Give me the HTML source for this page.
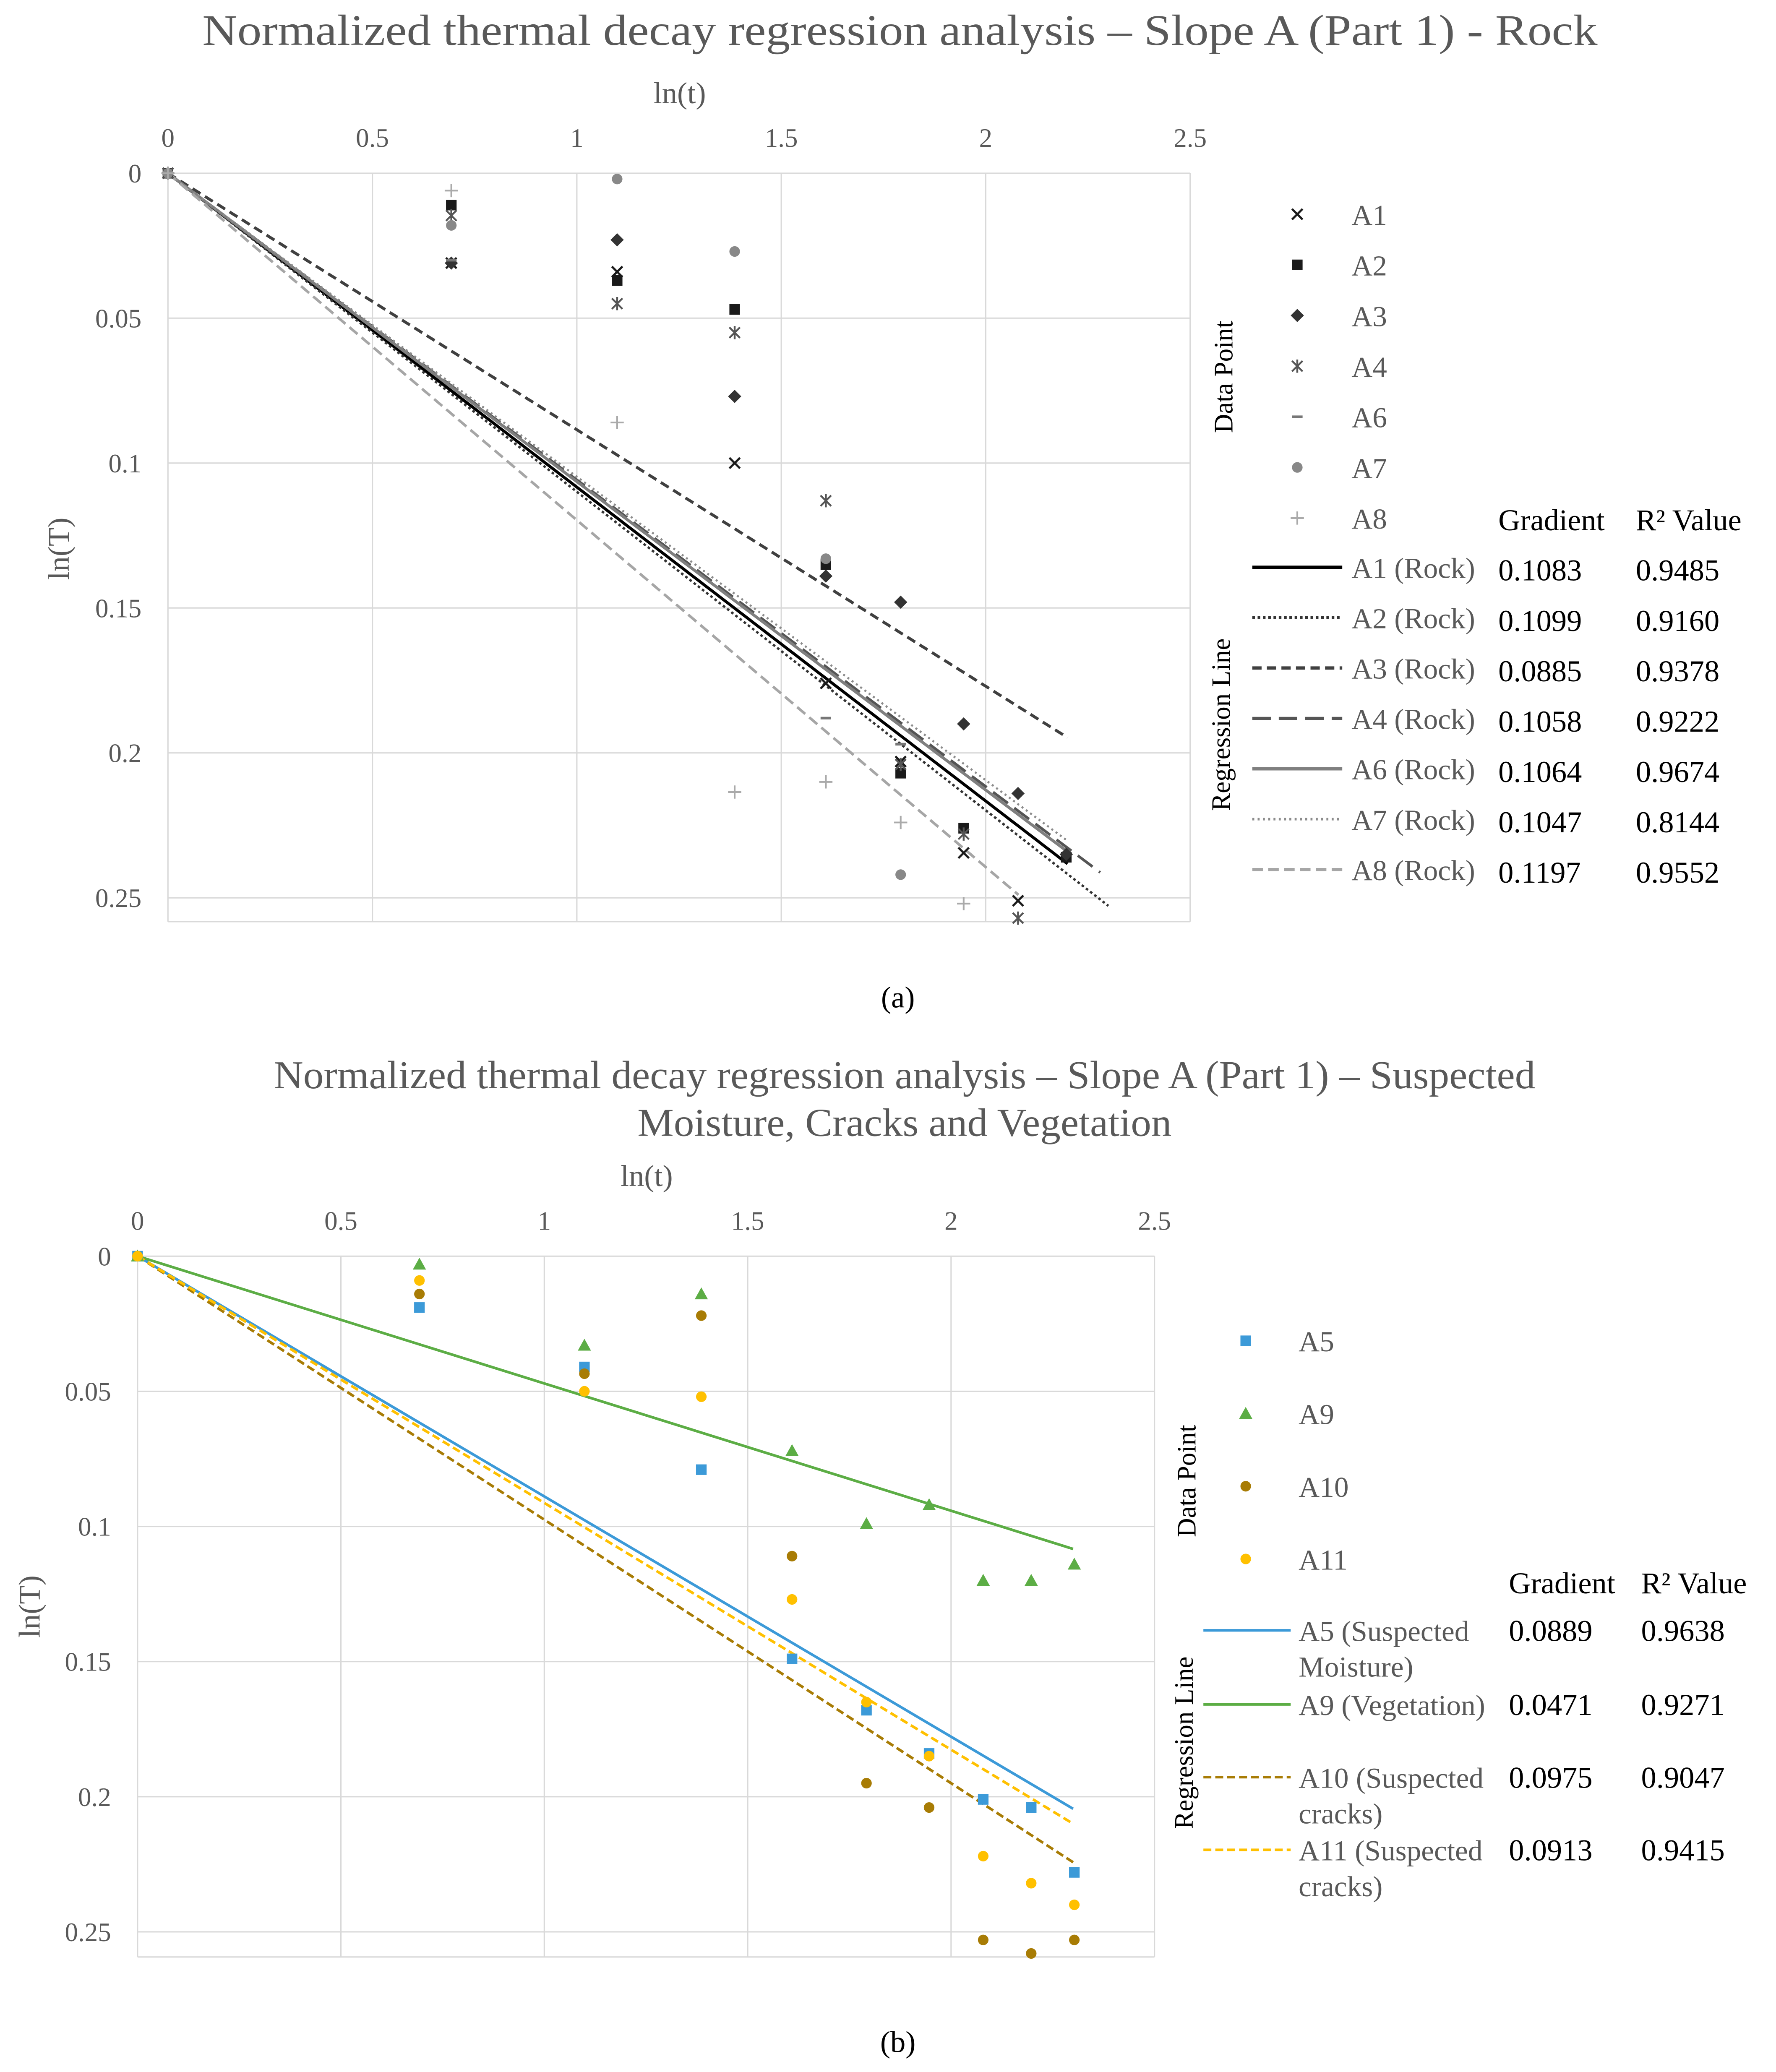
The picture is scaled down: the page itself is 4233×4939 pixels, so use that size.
<!DOCTYPE html>
<html><head><meta charset="utf-8">
<style>html,body{margin:0;padding:0;background:#fff}svg{display:block}</style>
</head><body>
<svg id="fig" xmlns="http://www.w3.org/2000/svg" width="4233" height="4939" viewBox="0 0 1343 1567" font-family="'Liberation Serif', serif"></svg>
<script>
// ---------- Chart A data ----------
const xsA = [0, 0.693, 1.0986, 1.386, 1.609, 1.792, 1.946, 2.079, 2.197];
const a1Vals = [0, 0.031, 0.034, 0.100, 0.176, 0.203, 0.2345, 0.251, null];
const a2Vals = [0, 0.011, 0.037, 0.047, 0.135, 0.207, 0.226, null, 0.236];
const a3Vals = [0, 0.031, 0.023, 0.077, 0.139, 0.148, 0.190, 0.214, 0.235];
const a4Vals = [0, 0.0146, 0.045, 0.055, 0.113, 0.204, 0.228, 0.257, null];
const a6Vals = [0, 0.030, null, null, 0.188, 0.197, null, null, null];
const a7Vals = [0, 0.018, 0.002, 0.027, 0.133, 0.242, null, null, null];
const a8Vals = [0, 0.006, 0.086, 0.2135, 0.210, 0.224, 0.252, null, null];
const namesA = ['A1','A2','A3','A4','A6','A7','A8'];
const gradA = [0.1083, 0.1099, 0.0885, 0.1058, 0.1064, 0.1047, 0.1197];
const r2A = ['0.9485','0.9160','0.9378','0.9222','0.9674','0.8144','0.9552'];
const lineEndA = [2.2, 2.3, 2.2, 2.28, 2.2, 2.2, 2.08];
const xTicks = [0, 0.5, 1, 1.5, 2, 2.5];
const yTicks = [0, 0.05, 0.1, 0.15, 0.2, 0.25];
const yTickLabels = ['0','0.05','0.1','0.15','0.2','0.25'];
// ---------- Chart B data ----------
const xsB = [0, 0.693, 1.0986, 1.386, 1.609, 1.792, 1.946, 2.079, 2.197, 2.303];
const a5Vals = [0, 0.019, 0.041, 0.079, 0.149, 0.168, 0.184, 0.201, 0.204, 0.228];
const a9Vals = [0, 0.003, 0.033, 0.014, 0.072, 0.099, 0.092, 0.120, 0.120, 0.114];
const a10Vals = [0, 0.014, 0.0435, 0.022, 0.111, 0.195, 0.204, 0.253, 0.258, 0.253];
const a11Vals = [0, 0.009, 0.050, 0.052, 0.127, 0.165, 0.185, 0.222, 0.232, 0.240];
const namesB = ['A5','A9','A10','A11'];
const gradB = [0.0889, 0.0471, 0.0975, 0.0913];
const r2B = ['0.9638','0.9271','0.9047','0.9415'];
const lineEndB = [2.3, 2.3, 2.3, 2.3];

const NS='http://www.w3.org/2000/svg';
const svg=document.getElementById('fig');
function mk(tag,attrs,parent){const e=document.createElementNS(NS,tag);for(const k in attrs)e.setAttribute(k,attrs[k]);(parent||svg).appendChild(e);return e;}
function txt(s,attrs,parent){const e=mk('text',attrs,parent);e.textContent=s;return e;}

function axes(g,cfg){
  const sx=v=>cfg.x0+v*cfg.kx, sy=v=>cfg.y0+v*cfg.ky;
  xTicks.forEach((t,i)=>{
    const l=mk('line',{x1:sx(t),x2:sx(t),y1:cfg.y0,y2:cfg.yb,stroke:'#d9d9d9','stroke-width':1},g);
    
    
    const tl=txt(String(t),{x:sx(t),y:cfg.y0-20,'text-anchor':'middle','font-size':20,fill:'#595959'},g);
    
    
  });
  yTicks.forEach((t,i)=>{
    const l=mk('line',{x1:cfg.x0,x2:cfg.x0+2.5*cfg.kx,y1:sy(t),y2:sy(t),stroke:'#d9d9d9','stroke-width':1},g);
    
    
    const tl=txt(yTickLabels[i],{x:cfg.x0-20,y:sy(t)+7,'text-anchor':'end','font-size':20,fill:'#595959'},g);
    
    
  });
  const bl=mk('line',{x1:cfg.x0,x2:cfg.x0+2.5*cfg.kx,y1:cfg.yb,y2:cfg.yb,stroke:'#d9d9d9'},g);
  
  
  return [sx,sy];
}

function marker(g,type,x,y,color){
  let e;
  if(type==='x'){e=mk('path',{d:`M${x-4},${y-4}L${x+4},${y+4}M${x-4},${y+4}L${x+4},${y-4}`,stroke:color,'stroke-width':1.6,fill:'none'},g);}
  else if(type==='sq'){e=mk('rect',{x:x-4,y:y-4,width:8,height:8,fill:color},g);}
  else if(type==='dia'){e=mk('path',{d:`M${x},${y-5}L${x+5},${y}L${x},${y+5}L${x-5},${y}Z`,fill:color},g);}
  else if(type==='ast'){e=mk('path',{d:`M${x-4},${y-4}L${x+4},${y+4}M${x-4},${y+4}L${x+4},${y-4}M${x},${y-5}L${x},${y+5}`,stroke:color,'stroke-width':1.4,fill:'none'},g);}
  else if(type==='dash'){e=mk('line',{x1:x-4,x2:x+4,y1:y,y2:y,stroke:color,'stroke-width':2},g);}
  else if(type==='dot'){e=mk('circle',{cx:x,cy:y,r:4,fill:color},g);}
  else if(type==='plus'){e=mk('path',{d:`M${x-5},${y}L${x+5},${y}M${x},${y-5}L${x},${y+5}`,stroke:color,'stroke-width':1.3,fill:'none'},g);}
  else if(type==='tri'){e=mk('path',{d:`M${x},${y-5}L${x+5},${y+4}L${x-5},${y+4}Z`,fill:color},g);}
  return e;
}

// ================= Chart A =================
const gA=mk('g',{});


let t=txt('Normalized thermal decay regression analysis – Slope A (Part 1) - Rock',{x:153,y:34,'font-size':33,fill:'#595959',textLength:1055,lengthAdjust:'spacingAndGlyphs'},gA);


t=txt('ln(t)',{x:514,y:78,'text-anchor':'middle','font-size':23,fill:'#595959'},gA);


t=txt('ln(T)',{x:0,y:0,'text-anchor':'middle','font-size':23,fill:'#595959',transform:'translate(52,415) rotate(-90)'},gA);


const [sxA,syA]=axes(gA,{x0:127,kx:309.2,y0:131,ky:2192,yb:697});
const seriesA=[a1Vals,a2Vals,a3Vals,a4Vals,a6Vals,a7Vals,a8Vals];
const mTypesA=['x','sq','dia','ast','dash','dot','plus'];
const mColA=['#1a1a1a','#1a1a1a','#333','#555','#777','#888','#aaa'];
const lColA=['#000','#333','#404040','#555','#7f7f7f','#8c8c8c','#a6a6a6'];
const lDashA=['','2,2','7,4','14,6','','1.5,2.5','8,4'];
const lWA=[2.2,1.8,2.2,2,2.2,1.6,2];
lineEndA.forEach((xe,i)=>{
  const l=mk('line',{x1:sxA(0),y1:syA(0),x2:sxA(xe),y2:syA(gradA[i]*xe),stroke:lColA[i],'stroke-width':lWA[i],'stroke-dasharray':lDashA[i]},gA);
  
  
});
seriesA.forEach((vals,i)=>{
  vals.forEach((v,j)=>{
    if(v===null)return;
    const m=marker(gA,mTypesA[i],sxA(xsA[j]),syA(v),mColA[i]);
    
    
  });
});
// legend A
t=txt('Data Point',{transform:'translate(932,285) rotate(-90)','text-anchor':'middle','font-size':20,fill:'#000'},gA);


t=txt('Regression Line',{transform:'translate(930,548) rotate(-90)','text-anchor':'middle','font-size':20,fill:'#000'},gA);


namesA.forEach((n,i)=>{
  const y=162+i*38.3;
  const m=marker(gA,mTypesA[i],981,y,mColA[i]);
  
  
  const lt=txt(n,{x:1022,y:y+8,'font-size':22,fill:'#595959'},gA);
  
  
});
t=txt('Gradient',{x:1133,y:401,'font-size':23,fill:'#000'},gA);


t=txt('R² Value',{x:1237,y:401,'font-size':23,fill:'#000'},gA);


namesA.forEach((n,i)=>{
  const y=429+i*38.1;
  const l=mk('line',{x1:947,x2:1015,y1:y,y2:y,stroke:lColA[i],'stroke-width':lWA[i]+0.3,'stroke-dasharray':lDashA[i]},gA);
  
  
  const lt=txt(n+' (Rock)',{x:1022,y:y+8,'font-size':22,fill:'#595959'},gA);
  
  
  const gt=txt(gradA[i].toFixed(4),{x:1133,y:y+10,'font-size':23,fill:'#000'},gA);
  
  
  const rt=txt(r2A[i],{x:1237,y:y+10,'font-size':23,fill:'#000'},gA);
  
  
});
t=txt('(a)',{x:679,y:762,'text-anchor':'middle','font-size':23,fill:'#000'},gA);



// ================= Chart B =================
const gB=mk('g',{});


t=txt('Normalized thermal decay regression analysis – Slope A (Part 1) – Suspected',{x:207,y:823,'font-size':30,fill:'#595959',textLength:954,lengthAdjust:'spacingAndGlyphs'},gB);


t=txt('Moisture, Cracks and Vegetation',{x:482,y:859,'font-size':30,fill:'#595959',textLength:404,lengthAdjust:'spacingAndGlyphs'},gB);


t=txt('ln(t)',{x:489,y:897,'text-anchor':'middle','font-size':23,fill:'#595959'},gB);


t=txt('ln(T)',{transform:'translate(30,1215) rotate(-90)','text-anchor':'middle','font-size':23,fill:'#595959'},gB);


const [sxB,syB]=axes(gB,{x0:104,kx:307.6,y0:950,ky:2044,yb:1480});
const seriesB=[a5Vals,a9Vals,a10Vals,a11Vals];
const mTypesB=['sq','tri','dot','dot'];
const colB=['#3c9ad8','#5cad45','#a87c05','#ffc000'];
const lDashB=['','','6,3','6,3'];
lineEndB.forEach((xe,i)=>{
  const l=mk('line',{x1:sxB(0),y1:syB(0),x2:sxB(xe),y2:syB(gradB[i]*xe),stroke:colB[i],'stroke-width':2,'stroke-dasharray':lDashB[i]},gB);
  
  
});
seriesB.forEach((vals,i)=>{
  vals.forEach((v,j)=>{
    const m=marker(gB,mTypesB[i],sxB(xsB[j]),syB(v),colB[i]);
    
    
  });
});
t=txt('Data Point',{transform:'translate(904,1120) rotate(-90)','text-anchor':'middle','font-size':20,fill:'#000'},gB);


t=txt('Regression Line',{transform:'translate(902,1318) rotate(-90)','text-anchor':'middle','font-size':20,fill:'#000'},gB);


namesB.forEach((n,i)=>{
  const y=1014+i*55;
  const m=marker(gB,mTypesB[i],942,y,colB[i]);
  
  
  const lt=txt(n,{x:982,y:y+8,'font-size':22,fill:'#595959'},gB);
  
  
});
t=txt('Gradient',{x:1141,y:1205,'font-size':23,fill:'#000'},gB);


t=txt('R² Value',{x:1241,y:1205,'font-size':23,fill:'#000'},gB);


const lblB=[['A5 (Suspected','Moisture)'],['A9 (Vegetation)'],['A10 (Suspected','cracks)'],['A11 (Suspected','cracks)']];
const lyB=[1233,1289,1344,1399];
namesB.forEach((n,i)=>{
  const y=lyB[i];
  const l=mk('line',{x1:910,x2:976,y1:y,y2:y,stroke:colB[i],'stroke-width':2,'stroke-dasharray':lDashB[i]},gB);
  
  
  lblB[i].forEach((s,k)=>{
    const lt=txt(s,{x:982,y:y+8+k*27,'font-size':22,fill:'#595959'},gB);
    
    
  });
  const gt=txt(gradB[i].toFixed(4),{x:1141,y:y+8,'font-size':23,fill:'#000'},gB);
  
  
  const rt=txt(r2B[i],{x:1241,y:y+8,'font-size':23,fill:'#000'},gB);
  
  
});
t=txt('(b)',{x:679,y:1552,'text-anchor':'middle','font-size':23,fill:'#000'},gB);


</script>
</body></html>
